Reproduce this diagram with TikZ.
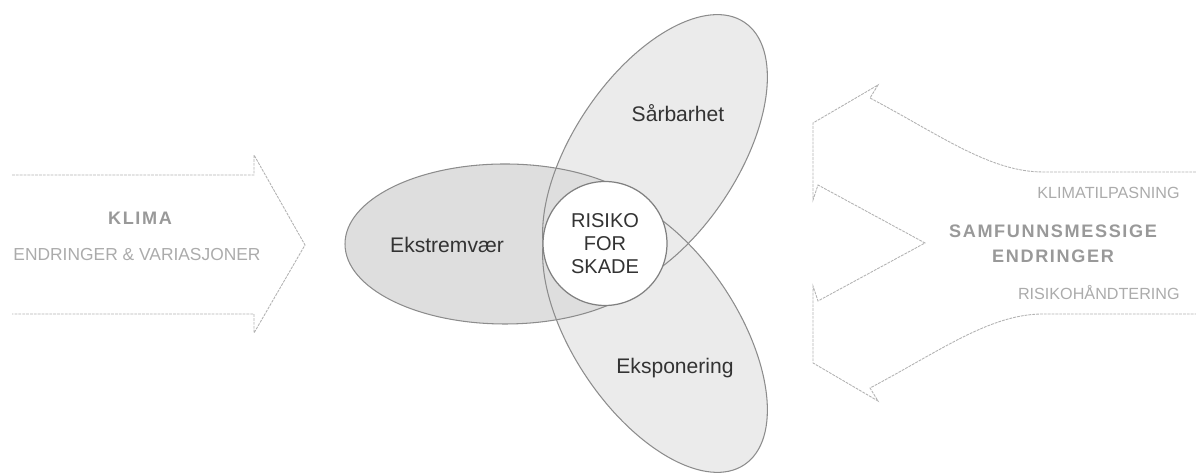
\documentclass[tikz,border=0pt]{standalone}
\usepackage{fontspec}
\setmainfont{Liberation Sans}
\usepackage[dvipsnames]{xcolor}

\begin{document}
\begin{tikzpicture}[x=0.02cm,y=0.02cm,
    flow line/.style={draw=black!30,line width=0.5pt,dash pattern=on 1.6pt off 0.6pt},
    petal line/.style={draw=black!45,line width=0.6pt},
    petal text/.style={inner sep=0pt,text=black!80,font=\fontsize{12}{14}\selectfont},
    flow title/.style={inner sep=0pt,text=black!40,align=center,font=\bfseries\fontsize{10.3}{14.2}\selectfont\addfontfeature{LetterSpace=9}},
    flow text/.style={inner sep=0pt,text=black!33,font=\fontsize{9.2}{12}\selectfont},
    risk node/.style={circle,draw=black!50,fill=white,line width=0.7pt,minimum size=2.48cm,inner sep=0pt,align=center,text=black!80,font=\fontsize{11.4}{13.3}\selectfont}]
    \useasboundingbox (0,0) rectangle (1196,475);

    % klima arrow
    \draw[flow line] (12,300) -- (254,300) -- (254,320) -- (305,230) -- (254,142) -- (254,161) -- (12,161);
    \node[flow title] (klima) at (140,257) {KLIMA};
    \node[flow text,font=\fontsize{9.9}{12}\selectfont] (variasjon) at (137,220) {ENDRINGER \& VARIASJONER};

    % petals
    \fill[black!8,rotate around={56:(655,320)}] (655,320) ellipse [x radius=160,y radius=82];
    \fill[black!8,rotate around={-56:(655,143)}] (655,143) ellipse [x radius=160,y radius=82];
    \fill[black!13] (505,231) ellipse [x radius=160,y radius=80];
    \draw[petal line,rotate around={56:(655,320)}] (655,320) ellipse [x radius=160,y radius=82];
    \draw[petal line,rotate around={-56:(655,143)}] (655,143) ellipse [x radius=160,y radius=82];
    \draw[petal line] (505,231) ellipse [x radius=160,y radius=80];

    \node[petal text] (ekstrem) at (447,230) {Ekstremvær};
    \node[petal text] (sarbar) at (678,362) {Sårbarhet};
    \node[petal text] (ekspon) at (675,107) {Eksponering};
    \node[risk node] (risiko) at (605,231.5) {RISIKO\\FOR\\SKADE};

    % samfunn arrow
    \draw[flow line] (1196,303) -- (1043,303) .. controls (990,303) and (940,340) .. (870,377) -- (878,390) -- (813,352) -- (813,275) -- (818,290) -- (925,232)
        -- (818,174) -- (813,189) -- (813,112) -- (878,74) -- (870,87) .. controls (940,124) and (990,161) .. (1043,161) -- (1196,161);
    \node[flow text,anchor=east] (tilpasning) at (1180,282) {KLIMATILPASNING};
    \node[flow title] (samfunn) at (1053,231) {SAMFUNNSMESSIGE\\ENDRINGER};
    \node[flow text,anchor=east] (handtering) at (1180,182) {RISIKOHÅNDTERING};
\end{tikzpicture}
\end{document}
